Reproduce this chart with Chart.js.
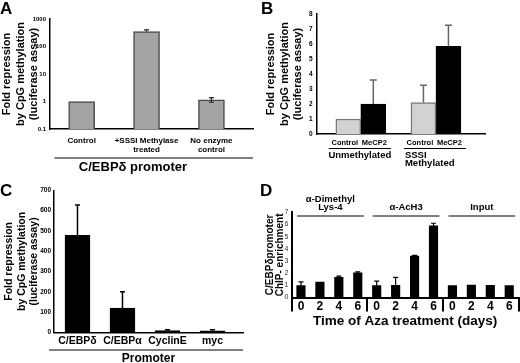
<!DOCTYPE html>
<html>
<head>
<meta charset="utf-8">
<script src="https://cdn.jsdelivr.net/npm/chart.js@4"></script>
<style>
  body { margin: 0; background: #fff; }
  #page { position: relative; width: 520px; height: 363px; overflow: hidden; }
  canvas { position: absolute; left: 0; top: 0; }
  .tag { position: absolute; font: bold 17px 'Liberation Sans', Arial, sans-serif; line-height: 17px; }
</style>
</head>
<body>
<div id="page">
  <canvas id="cA" width="520" height="363"></canvas>
  <canvas id="cB" width="520" height="363"></canvas>
  <canvas id="cC" width="520" height="363"></canvas>
  <canvas id="cD" width="520" height="363"></canvas>
  <div class="tag" style="left:0px;top:0px">A</div>
  <div class="tag" style="left:261px;top:0px">B</div>
  <div class="tag" style="left:0px;top:182px">C</div>
  <div class="tag" style="left:260px;top:182px">D</div>
</div>
<script>
// Panel A - log scale, fold repression
const catsA = [["Control"], ["+SSSI Methylase", "treated"], ["No enzyme", "control"]];
const valsA = [1, 350, 1.14];
const errHiA = [null, 400, 1.39];
const errLoA = [null, null, 0.94];
const ticksA = [0.1, 1, 10, 100, 1000];

// Panel B - MeCP2
const groupsB = [["Unmethylated"], ["SSSI", "Methylated"]];
const seriesB = ["Control", "MeCP2"];
const ctrlB = [1, 2.1];
const ctrlErrB = [null, 3.25];
const mecpB = [2, 5.85];
const mecpErrB = [3.6, 7.25];

// Panel C - promoters
const catsC = ["C/EBPδ", "C/EBPα", "CyclinE", "myc"];
const valsC = [478, 120, 9, 8];
const errC = [628, 200, 14, 13];

// Panel D - ChIP over Aza days
const daysD = ["0", "2", "4", "6"];
const groupsD = [["α-Dimethyl", "Lys-4"], ["α-AcH3"], ["Input"]];
const valsD = [0.97, 1.26, 1.65, 2.02, 0.97, 1.0, 3.4, 5.88, 0.97, 1.02, 0.99, 0.97];
const errD = [1.29, null, 1.76, 2.11, 1.35, 1.65, 3.46, 6.1, null, null, null, null];

const yTitle = ["Fold repression", "by CpG methylation", "(luciferase assay)"];
const FONT = "'Liberation Sans', Arial, sans-serif";

Chart.defaults.font.family = FONT;
Chart.defaults.font.weight = "bold";
Chart.defaults.color = "#000";
Chart.defaults.animation = false;
Chart.defaults.responsive = false;
Chart.defaults.plugins.legend.display = false;
Chart.defaults.plugins.tooltip.enabled = false;

function text(ctx, s, x, y, size, align = "center") {
    ctx.save();
    ctx.font = `bold ${size}px ${FONT}`;
    ctx.fillStyle = "#000";
    ctx.textAlign = align;
    ctx.textBaseline = "middle";
    ctx.fillText(s, x, y);
    ctx.restore();
}

function line(ctx, x1, x2, y, w) {
    ctx.save();
    ctx.strokeStyle = "#000";
    ctx.lineWidth = w;
    ctx.beginPath();
    ctx.moveTo(x1, y);
    ctx.lineTo(x2, y);
    ctx.stroke();
    ctx.restore();
}

// error bars drawn from dataset.errHi / errLo
const errorBars = {
    id: "errorBars",
    afterDatasetsDraw(chart, args, opts) {
        const ctx = chart.ctx, y = chart.scales.y;
        chart.data.datasets.forEach((ds, i) => {
            if (!ds.errHi) return;
            chart.getDatasetMeta(i).data.forEach((bar, j) => {
                const hi = ds.errHi[j];
                if (hi == null) return;
                const lo = ds.errLo ? ds.errLo[j] : null;
                const top = y.getPixelForValue(hi);
                const bot = lo != null ? y.getPixelForValue(lo) : bar.y;
                ctx.save();
                ctx.strokeStyle = opts.color;
                ctx.lineWidth = opts.width;
                ctx.beginPath();
                ctx.moveTo(bar.x, bot);
                ctx.lineTo(bar.x, top);
                ctx.moveTo(bar.x - opts.cap / 2, top);
                ctx.lineTo(bar.x + opts.cap / 2, top);
                if (lo != null) {
                    ctx.moveTo(bar.x - opts.cap / 2, bot);
                    ctx.lineTo(bar.x + opts.cap / 2, bot);
                }
                ctx.stroke();
                ctx.restore();
            });
        });
    }
};

const axisBorder = { color: "#000", width: 1.5 };
const noGrid = { display: false, drawTicks: false };

// ---- A ----
new Chart(document.getElementById("cA"), {
    type: "bar",
    data: {
        datasets: [{
            data: valsA.map((v, i) => ({ x: i + 1, y: v })),
            errHi: errHiA, errLo: errLoA,
            backgroundColor: "#a4a4a4", borderColor: "#4a4a4a", borderWidth: 1.5,
            barThickness: 26
        }]
    },
    options: {
        layout: { padding: { left: 0, top: 19, right: 267, bottom: 204 } },
        scales: {
            x: {
                type: "linear", min: 0.505, max: 3.64, offset: false,
                afterBuildTicks: s => { s.ticks = catsA.map((c, i) => ({ value: i + 1 })); },
                afterFit: s => { s.height = 30; },
                grid: noGrid, border: axisBorder,
                ticks: { callback: v => catsA[v - 1], font: { size: 8, lineHeight: 1.05 }, padding: 8, maxRotation: 0, autoSkip: false }
            },
            y: {
                type: "logarithmic", min: 0.1, max: 1000,
                afterBuildTicks: s => { s.ticks = ticksA.map(v => ({ value: v })); },
                afterFit: s => { s.width = 49.5; },
                grid: noGrid, border: axisBorder,
                ticks: { callback: v => String(v), font: { size: 6 }, padding: 3.5 },
                title: { display: true, text: yTitle, font: { size: 11, lineHeight: 1.23 }, padding: { top: 0.3, bottom: 0 } }
            }
        },
        plugins: { errorBars: { color: "#222", width: 1.2, cap: 5 } }
    },
    plugins: [errorBars, {
        id: "notesA",
        afterDraw(chart) {
            const ctx = chart.ctx, a = chart.chartArea;
            line(ctx, a.left + 5, a.right, a.bottom + 29, 1.2);
            text(ctx, "C/EBPδ promoter", 133, a.bottom + 38, 13);
        }
    }]
});

// ---- B ----
new Chart(document.getElementById("cB"), {
    type: "bar",
    data: {
        datasets: [
            { label: seriesB[0], data: ctrlB.map((v, i) => ({ x: i + 1, y: v })), errHi: ctrlErrB,
              backgroundColor: "#d2d2d2", borderColor: "#7a7a7a", borderWidth: 1.5, barThickness: 25 },
            { label: seriesB[1], data: mecpB.map((v, i) => ({ x: i + 1, y: v })), errHi: mecpErrB,
              backgroundColor: "#000", borderColor: "#000", borderWidth: 1, barThickness: 25 }
        ]
    },
    options: {
        layout: { padding: { left: 260, top: 14, right: 35, bottom: 209 } },
        scales: {
            x: {
                type: "linear", min: 0.413, max: 2.653, offset: false,
                afterFit: s => { s.height = 20; },
                grid: noGrid, border: axisBorder,
                ticks: { display: false }
            },
            y: {
                min: 0, max: 8,
                afterFit: s => { s.width = 56.7; },
                grid: noGrid, border: axisBorder,
                ticks: { stepSize: 1, font: { size: 6.5 }, padding: 4 },
                title: { display: true, text: yTitle, font: { size: 11, lineHeight: 1.23 }, padding: { top: 4.3, bottom: 0 } }
            }
        },
        plugins: { errorBars: { color: "#666", width: 1.5, cap: 7 } }
    },
    plugins: [errorBars, {
        id: "notesB",
        afterDraw(chart) {
            const ctx = chart.ctx, b = chart.chartArea.bottom;
            chart.data.datasets.forEach((ds, i) => {
                chart.getDatasetMeta(i).data.forEach(bar => text(ctx, ds.label, bar.x + (i === 0 ? -3.5 : 1), b + 8.5, 7.5));
            });
            groupsB.forEach((g, j) => {
                const l = chart.getDatasetMeta(0).data[j], r = chart.getDatasetMeta(1).data[j];
                const x1 = l.x - l.width / 2 - 7, x2 = r.x + r.width / 2 + 5;
                line(ctx, x1, x2, b + 14.5, 1.2);
                g.forEach((s, k) => text(ctx, s, j === 0 ? (x1 + x2) / 2 : x1 + 1, b + 21 + k * 8.5, 9.5, j === 0 ? "center" : "left"));
            });
        }
    }]
});

// ---- C ----
new Chart(document.getElementById("cC"), {
    type: "bar",
    data: {
        datasets: [{
            data: valsC.map((v, i) => ({ x: i + 1, y: v })),
            errHi: errC,
            backgroundColor: "#000", borderColor: "#000", borderWidth: 1, barThickness: 25
        }]
    },
    options: {
        layout: { padding: { left: 0, top: 190.3, right: 277, bottom: 0 } },
        scales: {
            x: {
                type: "linear", min: 0.478, max: 4.678, offset: false,
                afterBuildTicks: s => { s.ticks = catsC.map((c, i) => ({ value: i + 1 })); },
                afterFit: s => { s.height = 30.5; },
                grid: noGrid, border: axisBorder,
                ticks: { callback: v => catsC[v - 1], font: { size: 10.5 }, padding: 2.3, maxRotation: 0, autoSkip: false },
                title: { display: true, text: "Promoter", font: { size: 12, lineHeight: 0.8 }, padding: 0 }
            },
            y: {
                min: 0, max: 700,
                afterFit: s => { s.width = 54; },
                grid: noGrid, border: axisBorder,
                ticks: { stepSize: 100, font: { size: 6.5 }, padding: 3 },
                title: { display: true, text: yTitle, font: { size: 10.5, lineHeight: 1.2 }, padding: { top: 2.8, bottom: 0 } }
            }
        },
        plugins: { errorBars: { color: "#000", width: 1.5, cap: 5 } }
    },
    plugins: [errorBars, {
        id: "notesC",
        afterDraw(chart) {
            const a = chart.chartArea;
            line(chart.ctx, a.left - 5, a.right, a.bottom + 17.5, 1.2);
        }
    }]
});

// ---- D ----
new Chart(document.getElementById("cD"), {
    type: "bar",
    data: {
        labels: groupsD.flatMap(() => daysD),
        datasets: [{
            data: valsD, errHi: errD,
            backgroundColor: "#000", borderColor: "#000", borderWidth: 0, barThickness: 8.5
        }]
    },
    options: {
        layout: { padding: { left: 260, top: 212.3, right: 1.3, bottom: 35.5 } },
        scales: {
            x: {
                afterFit: s => { s.height = 30; },
                grid: {
                    drawOnChartArea: false, tickLength: 14, lineWidth: 2,
                    color: c => (c.index === undefined || c.index % 4 === 0) ? "#000" : "rgba(0,0,0,0)"
                },
                border: { color: "#000", width: 2 },
                ticks: { font: { size: 12 }, padding: -12, maxRotation: 0, autoSkip: false },
                title: { display: true, text: "Time of Aza treatment (days)", font: { size: 13.5, lineHeight: 0.85 }, padding: 0 }
            },
            y: {
                min: 0, max: 7,
                afterFit: s => { s.width = 31.5; },
                grid: noGrid, border: { color: "#000", width: 2 },
                ticks: { stepSize: 1, font: { size: 7, weight: "normal" }, color: "#333", padding: 3 },
                title: { display: true, text: ["C/EBPδpromoter", "ChIP- enrichment"], font: { size: 10, lineHeight: 1.0 }, padding: { top: 5, bottom: 0 } }
            }
        },
        plugins: { errorBars: { color: "#000", width: 1.2, cap: 5 } }
    },
    plugins: [errorBars, {
        id: "notesD",
        afterDraw(chart) {
            const ctx = chart.ctx, x = chart.scales.x, t = chart.chartArea.top;
            groupsD.forEach((g, j) => {
                const x1 = x.getPixelForValue(j * 4) - 4, x2 = x.getPixelForValue(j * 4 + 3) + 6;
                line(ctx, x1, x2, t + 3.7, 1.2);
                g.forEach((s, k) => text(ctx, s, (x1 + x2) / 2, t - 4.5 - (g.length - 1 - k) * 8, 9.5));
            });
        }
    }]
});
</script>
</body>
</html>
